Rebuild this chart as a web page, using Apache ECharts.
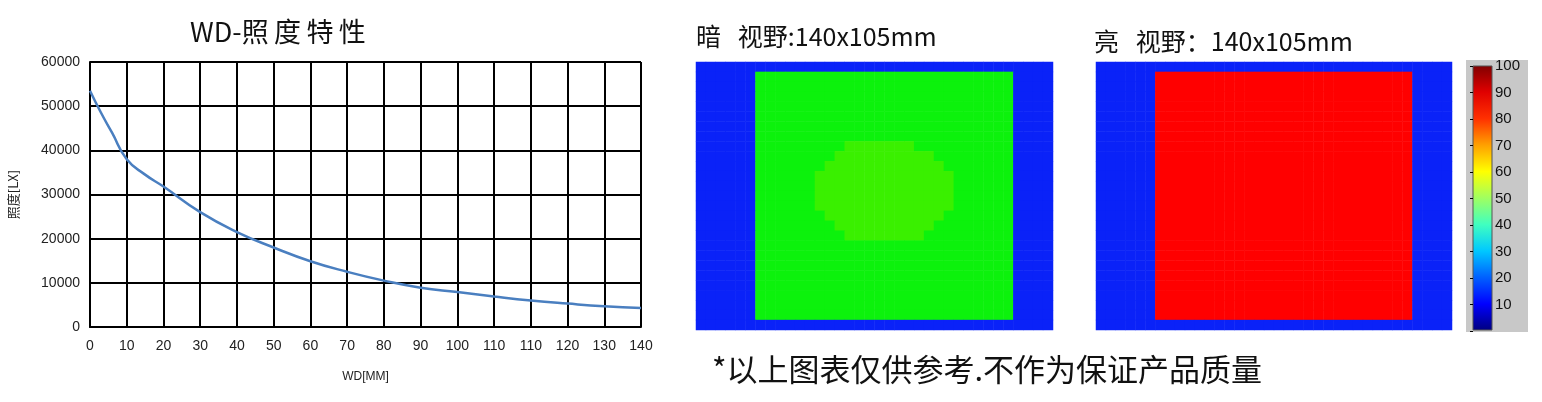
<!DOCTYPE html>
<html><head><meta charset="utf-8">
<script src="https://cdn.jsdelivr.net/npm/echarts@6/dist/echarts.min.js"></script>
<style>html,body{margin:0;padding:0;background:#fff}#c{width:1542px;height:402px}</style>
</head><body><div id="c"></div>
<script>
const xTickLabels=['0','10','20','30','40','50','60','70','80','90','100','110','110','120','130','140'];
const wdX=[0,3,6,10,15,20,30,40,50,60,70,80,90,100,110,120,130,140,150];
const lux=[53500,48500,44000,38000,34500,31800,26000,21500,18000,14900,12500,10500,8900,7900,6900,6000,5300,4700,4300];
const levelValue={'0':14,'g':54,'h':58,'r':89};
const darkRows=[
'000000000000000000000000000000000000',
'000000gggggggggggggggggggggggggg0000',
'000000gggggggggggggggggggggggggg0000',
'000000gggggggggggggggggggggggggg0000',
'000000gggggggggggggggggggggggggg0000',
'000000gggggggggggggggggggggggggg0000',
'000000gggggggggggggggggggggggggg0000',
'000000gggggggggggggggggggggggggg0000',
'000000ggggggggghhhhhhhgggggggggg0000',
'000000gggggggghhhhhhhhhhgggggggg0000',
'000000ggggggghhhhhhhhhhhhggggggg0000',
'000000gggggghhhhhhhhhhhhhhgggggg0000',
'000000gggggghhhhhhhhhhhhhhgggggg0000',
'000000gggggghhhhhhhhhhhhhhgggggg0000',
'000000gggggghhhhhhhhhhhhhhgggggg0000',
'000000ggggggghhhhhhhhhhhhggggggg0000',
'000000gggggggghhhhhhhhhhgggggggg0000',
'000000ggggggggghhhhhhhhggggggggg0000',
'000000gggggggggggggggggggggggggg0000',
'000000gggggggggggggggggggggggggg0000',
'000000gggggggggggggggggggggggggg0000',
'000000gggggggggggggggggggggggggg0000',
'000000gggggggggggggggggggggggggg0000',
'000000gggggggggggggggggggggggggg0000',
'000000gggggggggggggggggggggggggg0000',
'000000gggggggggggggggggggggggggg0000',
'000000000000000000000000000000000000'];
const brightRows=[
'000000000000000000000000000000000000',
'000000rrrrrrrrrrrrrrrrrrrrrrrrrr0000',
'000000rrrrrrrrrrrrrrrrrrrrrrrrrr0000',
'000000rrrrrrrrrrrrrrrrrrrrrrrrrr0000',
'000000rrrrrrrrrrrrrrrrrrrrrrrrrr0000',
'000000rrrrrrrrrrrrrrrrrrrrrrrrrr0000',
'000000rrrrrrrrrrrrrrrrrrrrrrrrrr0000',
'000000rrrrrrrrrrrrrrrrrrrrrrrrrr0000',
'000000rrrrrrrrrrrrrrrrrrrrrrrrrr0000',
'000000rrrrrrrrrrrrrrrrrrrrrrrrrr0000',
'000000rrrrrrrrrrrrrrrrrrrrrrrrrr0000',
'000000rrrrrrrrrrrrrrrrrrrrrrrrrr0000',
'000000rrrrrrrrrrrrrrrrrrrrrrrrrr0000',
'000000rrrrrrrrrrrrrrrrrrrrrrrrrr0000',
'000000rrrrrrrrrrrrrrrrrrrrrrrrrr0000',
'000000rrrrrrrrrrrrrrrrrrrrrrrrrr0000',
'000000rrrrrrrrrrrrrrrrrrrrrrrrrr0000',
'000000rrrrrrrrrrrrrrrrrrrrrrrrrr0000',
'000000rrrrrrrrrrrrrrrrrrrrrrrrrr0000',
'000000rrrrrrrrrrrrrrrrrrrrrrrrrr0000',
'000000rrrrrrrrrrrrrrrrrrrrrrrrrr0000',
'000000rrrrrrrrrrrrrrrrrrrrrrrrrr0000',
'000000rrrrrrrrrrrrrrrrrrrrrrrrrr0000',
'000000rrrrrrrrrrrrrrrrrrrrrrrrrr0000',
'000000rrrrrrrrrrrrrrrrrrrrrrrrrr0000',
'000000rrrrrrrrrrrrrrrrrrrrrrrrrr0000',
'000000000000000000000000000000000000'];
const colorbarTicks=[10,20,30,40,50,60,70,80,90,100];
const jetStops=['#800000','#e00000','#ff3000','#ffa000','#ffff00','#a0ff60','#40ffc0','#00c8ff','#0060ff','#0000ff','#00007f'];

function toCells(rows){const out=[];rows.forEach((r,y)=>{for(let x=0;x<r.length;x++)out.push([x,y,levelValue[r[x]]]);});return out;}
const nCols=darkRows[0].length, nRows=darkRows.length;
const colCats=Array.from({length:nCols},(_,i)=>i), rowCats=Array.from({length:nRows},(_,i)=>i);
const F='Liberation Sans, Arial, sans-serif';
const CJK='"Noto Sans CJK SC", sans-serif';
const hidCat=(gi,d,inv)=>({type:'category',gridIndex:gi,data:d,inverse:!!inv,show:false});

const chart=echarts.init(document.getElementById('c'));
chart.setOption({
  animation:false,
  grid:[
    {left:90,top:62,width:551,height:265},
    {left:696,top:62,width:357,height:268},
    {left:1096,top:62,width:356,height:268},
    {left:1473,top:66,width:19,height:265}
  ],
  xAxis:[
    {type:'value',gridIndex:0,min:0,max:150,interval:10,
     axisLine:{show:true,lineStyle:{color:'#000',width:2}},axisTick:{show:false},
     splitLine:{show:true,lineStyle:{color:'#000',width:2}},
     axisLabel:{color:'#222',fontSize:14,fontFamily:F,margin:12,formatter:v=>xTickLabels[Math.round(v/10)]},
     name:'WD[MM]',nameLocation:'middle',nameGap:44,nameTextStyle:{color:'#222',fontSize:12,fontFamily:F}},
    hidCat(1,colCats),hidCat(2,colCats),
    {type:'value',gridIndex:3,show:false,min:0,max:1}
  ],
  yAxis:[
    {type:'value',gridIndex:0,min:0,max:60000,interval:10000,
     axisLine:{show:true,lineStyle:{color:'#000',width:2}},axisTick:{show:false},
     splitLine:{show:true,lineStyle:{color:'#000',width:2}},
     axisLabel:{color:'#222',fontSize:14,fontFamily:F,margin:10,formatter:v=>String(v)},
     name:'照度[LX]',nameLocation:'middle',nameGap:70,nameRotate:90,nameTextStyle:{color:'#222',fontSize:13,fontFamily:CJK}},
    hidCat(1,rowCats,true),hidCat(2,rowCats,true),
    {type:'value',gridIndex:3,min:0,max:100,interval:10,position:'right',
     axisLine:{show:false},axisTick:{show:true,inside:true,length:3,lineStyle:{color:'#000'}},splitLine:{show:false},
     axisLabel:{color:'#111',fontSize:15,fontFamily:F,margin:3,formatter:v=>colorbarTicks.includes(v)?String(v):''}}
  ],
  visualMap:[
    {type:'piecewise',show:false,seriesIndex:[1,2],pieces:[
      {value:14,color:'#0a22f8'},{value:54,color:'#0cf20c'},{value:58,color:'#3af000'},{value:89,color:'#ff0000'}]}
  ],
  graphic:[
    {type:'rect',z:-10,shape:{x:1466,y:60,width:62,height:272},style:{fill:'#c8c8c8'}},
    {type:'rect',z:-5,shape:{x:1473,y:66,width:19,height:264},
     style:{fill:new echarts.graphic.LinearGradient(0,0,0,1,jetStops.map((c,i)=>({offset:i/(jetStops.length-1),color:c}))),stroke:'#555',lineWidth:1}},
    {type:'text',left:190,top:18,style:{text:'WD-照\u2009度\u2009特\u2009性',font:'27px '+CJK,fill:'#111'}},
    {type:'text',left:696,top:24,style:{text:'暗   视野:140x105mm',font:'25px '+CJK,fill:'#111'}},
    {type:'text',left:1094,top:29,style:{text:'亮   视野：140x105mm',font:'25px '+CJK,fill:'#111'}},
    {type:'text',left:712,top:354,style:{text:'*以上图表仅供参考.不作为保证产品质量',font:'31px '+CJK,fill:'#111'}}
  ],
  series:[
    {type:'line',xAxisIndex:0,yAxisIndex:0,smooth:true,showSymbol:false,
     lineStyle:{color:'#4a7fc0',width:2.5},data:wdX.map((x,i)=>[x,lux[i]])},
    {type:'heatmap',xAxisIndex:1,yAxisIndex:1,data:toCells(darkRows)},
    {type:'heatmap',xAxisIndex:2,yAxisIndex:2,data:toCells(brightRows)},
    {type:'scatter',xAxisIndex:3,yAxisIndex:3,data:[],symbolSize:0}
  ]
});
</script></body></html>
